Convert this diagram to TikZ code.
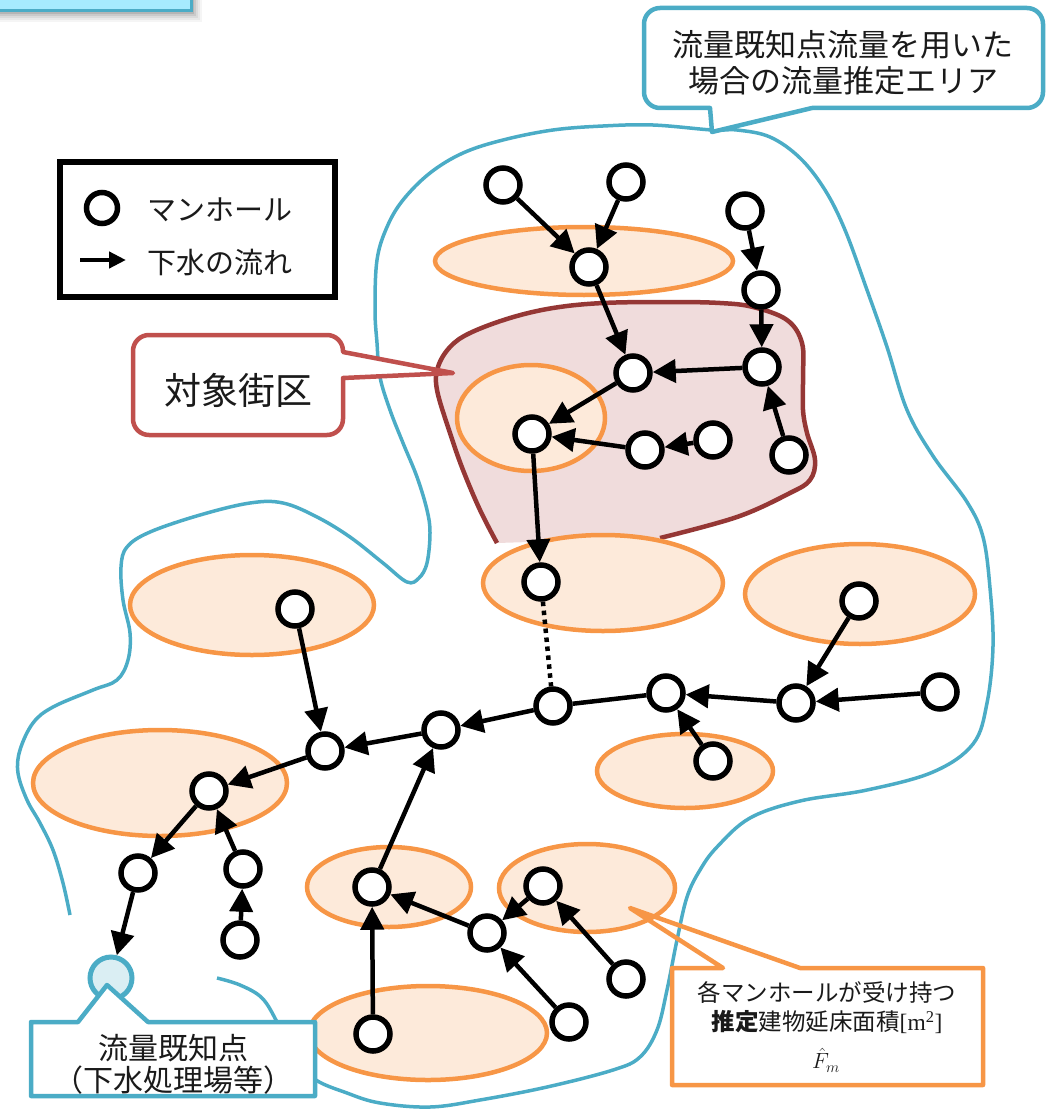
\RequirePackage{fix-cm}
\documentclass[tikz,border=0pt]{standalone}
\usepackage{fontspec}
\setmainfont{Noto Sans CJK JP}
\newfontfamily\tms{Liberation Serif}
\usetikzlibrary{arrows.meta}
\definecolor{orng}{HTML}{F79646}
\definecolor{orfill}{HTML}{FDEADA}
\definecolor{bluec}{HTML}{4BACC6}
\definecolor{redc}{HTML}{C0504D}
\definecolor{darkred}{HTML}{953735}
\definecolor{redfill}{HTML}{F0DCDC}
\definecolor{kpfill}{HTML}{DAEEF3}
\definecolor{topbox}{HTML}{A6EBFE}
\definecolor{txt}{HTML}{1A1A1A}
\begin{document}
\begin{tikzpicture}[x=1pt,y=-1pt,
  mh/.style={circle,draw=black,fill=white,line width=5.5pt,minimum size=34pt,inner sep=0pt},
  flow/.style={line width=4.5pt,-{Triangle[length=23pt,width=23pt]}},
  pipe/.style={line width=4.5pt},
  area/.style={draw=orng,fill=orfill,line width=4.5pt},
  bound/.style={draw=bluec,line width=3.5pt},
  lbl/.style={text=txt,inner sep=0pt,align=center}
]
\useasboundingbox (0,0) rectangle (1047,1110);
% top-left cut box with shadow
\foreach \d/\o in {10/0.04,8/0.05,6/0.06,4/0.08,2/0.1}
  \fill[black,opacity=\o] (-20,-20) rectangle (192+\d,12+\d);
\draw[draw=bluec,fill=topbox,line width=3pt] (-20,-20) rectangle (191,11);

% estimation area boundary
\draw[bound] plot[smooth,tension=0.6] coordinates {
 (70,915) (63,883) (53,850) (40,823) (27,800) (18,773) (20,750) (33,723) (53,707)
 (93,690) (117,680) (128,660) (130,633) (123,600) (121,567) (127,547) (150,532)
 (200,515) (250,503) (283,503) (317,517) (350,537) (383,563) (407,582) (419,578)
 (427,563) (430,533) (427,510) (417,477) (403,443) (390,410) (380,377) (377,343)
 (375,310) (377,260) (387,227) (403,200) (430,173) (463,153) (503,140) (553,130)
 (603,126) (653,125) (712,130) (737,130) (770,137) (800,158) (825,190) (845,230)
 (867,290) (887,347) (907,410) (933,456) (967,502) (983,537) (990,588) (993,646)
 (987,703) (973,744) (933,772) (867,790) (800,801) (750,818) (717,847) (700,870)
 (687,897) (677,940) (667,990) (657,1030) (640,1057) (613,1070) (547,1087)
 (480,1100) (430,1107) (380,1103) (347,1093) (313,1078) (290,1050) (277,1022)
 (262,998) (240,985) (217,978)};

% target block region
\fill[redfill] plot[smooth,tension=0.6] coordinates {
 (497,543) (480,510) (463,470) (450,433) (437,390) (438,367) (450,347) (470,333)
 (510,318) (553,308) (603,303) (670,302) (720,303) (753,307) (787,320) (802,343)
 (803,377) (803,410) (807,433) (815,460) (810,480) (790,493) (737,517) (660,538)} -- cycle;
\draw[darkred,line width=4.5pt] plot[smooth,tension=0.6] coordinates {
 (497,543) (480,510) (463,470) (450,433) (437,390) (438,367) (450,347) (470,333)
 (510,318) (553,308) (603,303) (670,302) (720,303) (753,307) (787,320) (802,343)
 (803,377) (803,410) (807,433) (815,460) (810,480) (790,493) (737,517) (660,538)};

% building floor areas
\draw[area] (584,261) ellipse [x radius=149pt, y radius=34pt];
\draw[area] (531,418) ellipse [x radius=74pt, y radius=53pt];
\draw[area] (603,583) ellipse [x radius=120pt, y radius=48pt];
\draw[area] (860,594) ellipse [x radius=115pt, y radius=50pt];
\draw[area] (252,605) ellipse [x radius=122pt, y radius=50pt];
\draw[area] (160,783) ellipse [x radius=127pt, y radius=53pt];
\draw[area] (685,771) ellipse [x radius=88pt, y radius=37pt];
\draw[area] (389,887) ellipse [x radius=82pt, y radius=40pt];
\draw[area] (587,888) ellipse [x radius=88pt, y radius=44pt];
\draw[area] (428,1033) ellipse [x radius=119pt, y radius=47pt];

% manholes
\node[mh] (n1) at (503,185) {};
\node[mh] (n2) at (626,182) {};
\node[mh] (n3) at (589,267) {};
\node[mh] (n4) at (745,211) {};
\node[mh] (n5) at (761,290) {};
\node[mh] (n6) at (633,373) {};
\node[mh] (n7) at (762,367) {};
\node[mh] (n8) at (532,434) {};
\node[mh] (n9) at (645,450) {};
\node[mh] (n10) at (713,440) {};
\node[mh] (n11) at (789,455) {};
\node[mh] (n12) at (541,582) {};
\node[mh] (n13) at (553,706) {};
\node[mh] (n14) at (666,693) {};
\node[mh] (n15) at (713,761) {};
\node[mh] (n16) at (796,703) {};
\node[mh] (n17) at (859,601) {};
\node[mh] (n18) at (940,692) {};
\node[mh] (n19) at (441,730) {};
\node[mh] (n20) at (325,751) {};
\node[mh] (n21) at (295,609) {};
\node[mh] (n22) at (209,791) {};
\node[mh] (n23) at (138,873) {};
\node[mh] (n24) at (243,869) {};
\node[mh] (n25) at (240,940) {};
\node[mh] (n27) at (372,887) {};
\node[mh] (n28) at (373,1034) {};
\node[mh] (n29) at (487,933) {};
\node[mh] (n30) at (543,886) {};
\node[mh] (n31) at (626,979) {};
\node[mh] (n32) at (569,1022) {};
\node[circle,draw=bluec,fill=kpfill,line width=5pt,minimum size=42pt,inner sep=0pt] (n26) at (111,978) {};

% flows
\draw[flow] (n1) -- (n3);
\draw[flow] (n2) -- (n3);
\draw[flow] (n3) -- (n6);
\draw[flow] (n4) -- (n5);
\draw[flow] (n5) -- (n7);
\draw[flow] (n7) -- (n6);
\draw[flow] (n11) -- (n7);
\draw[flow] (n6) -- (n8);
\draw[flow] (n9) -- (n8);
\draw[flow] (n10) -- (n9);
\draw[flow] (n8) -- (n12);
\draw[pipe,dash pattern=on 4.5pt off 4.5pt] (n12) -- (n13);
\draw[pipe] (n14) -- (n13);
\draw[flow] (n13) -- (n19);
\draw[flow] (n16) -- (n14);
\draw[flow] (n15) -- (n14);
\draw[flow] (n17) -- (n16);
\draw[flow] (n18) -- (n16);
\draw[flow] (n19) -- (n20);
\draw[flow] (n21) -- (n20);
\draw[flow] (n20) -- (n22);
\draw[flow] (n22) -- (n23);
\draw[flow] (n24) -- (n22);
\draw[flow] (n25) -- (n24);
\draw[flow] (n23) -- (n26);
\draw[flow] (n27) -- (n19);
\draw[flow] (n28) -- (n27);
\draw[flow] (n29) -- (n27);
\draw[flow] (n30) -- (n29);
\draw[flow] (n32) -- (n29);
\draw[flow] (n31) -- (n30);

% legend
\node[draw=black,line width=5.5pt,minimum width=275pt,minimum height=135pt,inner sep=0pt] (legend) at (197.5,229.5) {};
\node[mh,minimum size=31pt] (lgc) at (102,208) {};
\coordinate (la1) at (80,260);
\coordinate (la2) at (126,260);
\draw[line width=4.5pt,-{Triangle[length=17pt,width=16pt]}] (la1) -- (la2);
\node[lbl,anchor=west,font=\fontsize{29}{34}\selectfont] (lt1) at (147,210) {マンホール};
\node[lbl,anchor=west,font=\fontsize{29}{34}\selectfont] (lt2) at (147,262) {下水の流れ};

% top callout
\draw[bluec,line width=4.5pt,fill=white,line join=round]
  (660,8) -- (1027,8) arc[start angle=90,end angle=0,radius=16pt]
  -- (1043,92) arc[start angle=0,end angle=-90,radius=16pt]
  -- (812,108) -- (712,132) -- (710,108) -- (660,108)
  arc[start angle=-90,end angle=-180,radius=16pt]
  -- (644,24) arc[start angle=180,end angle=90,radius=16pt] -- cycle;
\node[lbl,font=\fontsize{31}{36}\selectfont] (tct) at (843,63) {流量既知点流量を用いた\\場合の流量推定エリア};

% target block callout
\draw[redc,line width=4.5pt,fill=white,line join=round]
  (149,335) -- (327,335) arc[start angle=90,end angle=0,radius=16pt]
  -- (343,352) -- (453,373) -- (343,378) -- (343,419)
  arc[start angle=0,end angle=-90,radius=16pt]
  -- (149,435) arc[start angle=-90,end angle=-180,radius=16pt]
  -- (133,351) arc[start angle=180,end angle=90,radius=16pt] -- cycle;
\node[lbl,font=\fontsize{37}{44}\selectfont] (rct) at (238,390) {対象街区};

% known point callout
\draw[bluec,line width=4.5pt,fill=white,line join=round]
  (31,1022) -- (78,1022) -- (107,985) -- (148,1022) -- (315,1022) -- (315,1096) -- (31,1096) -- cycle;
\node[lbl,font=\fontsize{30}{32}\selectfont] (kpt) at (173,1064) {流量既知点\\（下水処理場等）};

% floor area callout
\fill[white] (672,968) rectangle (983,1085);
\draw[orng,line width=4.5pt,line join=round]
  (672,968) -- (723,968) -- (630,908) -- (800,968) -- (983,968) -- (983,1085) -- (672,1085) -- cycle;
\node[lbl,font=\fontsize{23.5}{29}\selectfont] (fat) at (827,1008)
  {各マンホールが受け持つ\\{\bfseries 推定}建物延床面積{\tms [m\textsuperscript{2}]}};
\node[lbl,font=\fontsize{22}{26}\selectfont] (fhat) at (826,1060) {$\hat{F}_{m}$};
\end{tikzpicture}
\end{document}
